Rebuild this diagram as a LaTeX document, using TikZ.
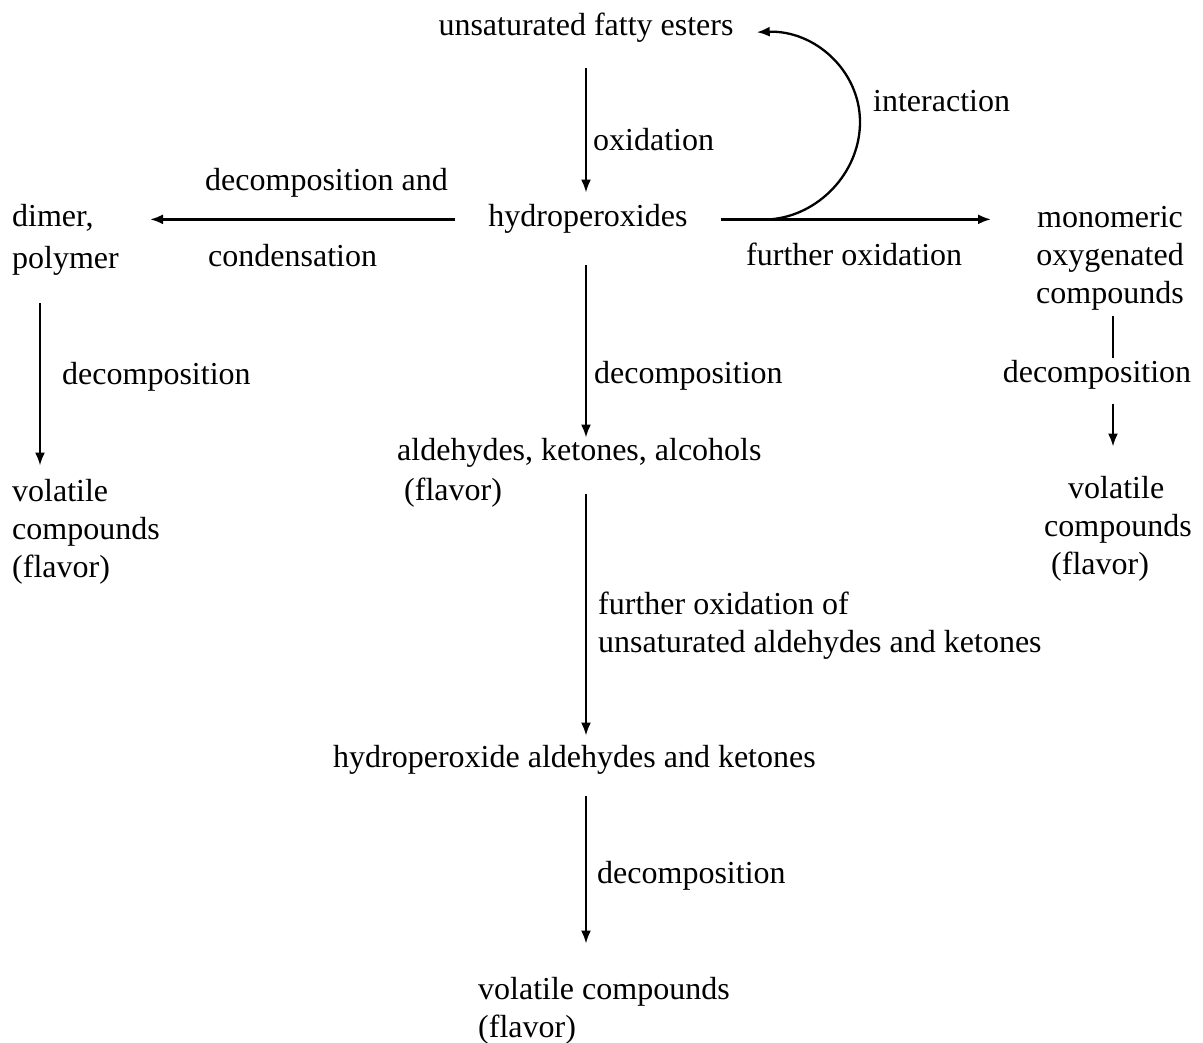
\documentclass[tikz,border=0pt]{standalone}
\usepackage{fontspec}
\setmainfont{Liberation Serif}
\usetikzlibrary{arrows.meta}
\begin{document}
\begin{tikzpicture}[x=1pt,y=-1pt,>={Latex[length=13pt,width=10pt]},
  every node/.style={inner sep=0pt,font=\fontsize{32}{38}\selectfont},
  flow/.style={->,line width=2.3pt}]
\useasboundingbox (0,0) rectangle (1203,1043);

% base of a multi-line node = its last line
\node[anchor=base] (esters) at (586,36) {unsaturated fatty esters};
\node[anchor=base] (hydro) at (588,227) {hydroperoxides};
\node[anchor=base west,align=left] (dimer) at (12,269) {dimer,\\[4pt]polymer};
\node[anchor=base,align=center] (mono) at (1110,304) {monomeric\\oxygenated\\compounds};
\node[anchor=base west,align=left] (volL) at (12,577) {volatile\\compounds\\(flavor)};
\node[anchor=base west,align=left] (volR) at (1044,574) {\hspace*{24pt}volatile\\compounds\\\hspace*{7pt}(flavor)};
\node[anchor=base west,align=left] (ald) at (397,500) {aldehydes, ketones, alcohols\\[2pt]\hspace*{7pt}(flavor)};
\node[anchor=base west] (hald) at (333,767) {hydroperoxide aldehydes and ketones};
\node[anchor=base west,align=left] (volB) at (478,1037) {volatile compounds\\(flavor)};

% labels
\node[anchor=base west] (lox) at (593,151) {oxidation};
\node[anchor=base west] (ldec) at (205,191) {decomposition and};
\node[anchor=base west] (lcond) at (208,267) {condensation};
\node[anchor=base west] (lint) at (873,112) {interaction};
\node[anchor=base west] (lfox) at (746,266) {further oxidation};
\node[anchor=base] (ldecR) at (1097,382) {decomposition};
\node[anchor=base west] (ldecL) at (62,384) {decomposition};
\node[anchor=base west] (ldecC) at (594,383) {decomposition};
\node[anchor=base west,align=left] (lfoxC) at (598,652) {further oxidation of\\unsaturated aldehydes and ketones};
\node[anchor=base west] (ldecB) at (597,883) {decomposition};

\draw[flow] ([yshift=-25pt]esters.south) -- ([yshift=12pt]esters.south |- hydro.north);
\draw[flow] ([xshift=-33pt]hydro.west) -- ([xshift=31pt]hydro.west -| dimer.east);
\draw[flow] ([xshift=33pt]hydro.east) -- ([xshift=-45pt]hydro.east -| mono.west);
\coordinate (loop) at ([xshift=82pt]hydro.east);
\draw[flow] (loop) .. controls (818,216) and (860,173) .. (860,122)
  .. controls (860,71) and (815,30) .. ([xshift=23pt,yshift=-4pt]esters.east);

\draw[flow] ([xshift=28pt,yshift=-27pt]dimer.south west) -- ([xshift=28pt,yshift=13pt]volL.north west);
\draw[flow] ([xshift=-2pt,yshift=-31pt]hydro.south) -- ([xshift=-2pt]hydro.south |- ald.north);
\draw[flow] ([xshift=-2pt,yshift=13pt]hydro.south |- ald.south) -- ([xshift=-2pt,yshift=9pt]hydro.south |- hald.north);
\draw[flow] ([xshift=-2pt,yshift=-22pt]hydro.south |- hald.south) -- ([xshift=-2pt,yshift=33pt]hydro.south |- volB.north);
\draw[line width=2.3pt] ([xshift=3pt,yshift=-5pt]mono.south) -- ([xshift=3pt,yshift=-47pt]mono.south);
\draw[flow] ([xshift=3pt,yshift=72pt]mono.south |- volR.north) -- ([xshift=3pt,yshift=29pt]mono.south |- volR.north);
\end{tikzpicture}
\end{document}
